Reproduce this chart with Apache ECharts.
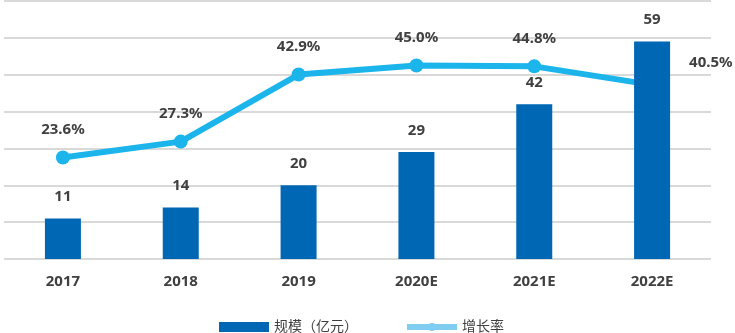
<!DOCTYPE html>
<html>
<head>
<meta charset="utf-8">
<script src="https://cdn.jsdelivr.net/npm/echarts@6/dist/echarts.min.js"></script>
<style>
  html, body { margin: 0; padding: 0; background: #fff; }
  #chart { width: 735px; height: 333px; }
</style>
</head>
<body>
<div id="chart"></div>
<script>
// Market size (100 million yuan) and growth rate by year
const years = ['2017', '2018', '2019', '2020E', '2021E', '2022E'];
const scale = [11, 14, 20, 29, 42, 59];
const growth = [23.6, 27.3, 42.9, 45.0, 44.8, 40.5];

const TEXT = '#404040';
const FONT = '"Noto Sans", "Noto Sans CJK SC", sans-serif';

const chart = echarts.init(document.getElementById('chart'));

// last growth label sits to the right of its bar
const growthData = growth.map((v, i) => {
  if (i === growth.length - 1) {
    return { value: v, label: { position: 'right', offset: [17, -22] } };
  }
  return v;
});

chart.setOption({
  animation: false,
  textStyle: { fontFamily: FONT },
  grid: { left: 4, right: 24, top: 1, bottom: 74 },
  legend: {
    left: 214,
    top: 315,
    itemWidth: 50,
    itemHeight: 10,
    itemGap: 46,
    textStyle: { color: TEXT, fontSize: 14, fontFamily: FONT },
    data: [
      { name: '规模（亿元）', icon: 'rect' },
      { name: '增长率', itemStyle: { color: '#7fcdf1' }, lineStyle: { color: '#7fcdf1', width: 6 } }
    ]
  },
  xAxis: {
    type: 'category',
    data: years,
    axisLine: { show: false },
    axisTick: { show: false },
    axisLabel: { color: TEXT, fontSize: 15, fontWeight: 'bold', margin: 15, fontFamily: FONT }
  },
  yAxis: [
    {
      type: 'value', min: 0, max: 70, interval: 10,
      axisLabel: { show: false }, axisLine: { show: false }, axisTick: { show: false },
      splitLine: { lineStyle: { color: '#d9d9d9', width: 2 } }
    },
    {
      type: 'value', min: 0, max: 60, interval: 10,
      axisLabel: { show: false }, axisLine: { show: false }, axisTick: { show: false },
      splitLine: { show: false }
    }
  ],
  series: [
    {
      name: '规模（亿元）',
      type: 'bar',
      data: scale,
      barWidth: 36,
      z: 3,
      itemStyle: { color: '#0067b4' },
      label: {
        show: true, position: 'top', distance: 14,
        color: TEXT, fontSize: 15, fontWeight: 'bold', fontFamily: FONT
      }
    },
    {
      name: '增长率',
      type: 'line',
      yAxisIndex: 1,
      data: growthData,
      z: 2,
      symbol: 'circle',
      symbolSize: 14,
      lineStyle: { color: '#1bb5ec', width: 6 },
      itemStyle: { color: '#1bb5ec' },
      label: {
        show: true, position: 'top', distance: 13,
        color: TEXT, fontSize: 15, fontWeight: 'bold', fontFamily: FONT,
        formatter: p => p.value.toFixed(1) + '%'
      }
    }
  ]
});
</script>
</body>
</html>
